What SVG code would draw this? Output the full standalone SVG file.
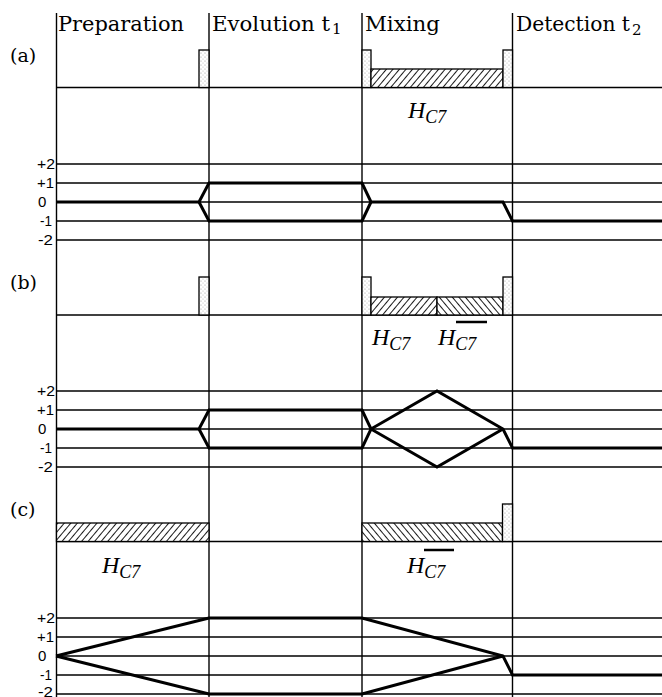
<svg xmlns="http://www.w3.org/2000/svg" width="662" height="697" viewBox="0 0 662 697">
<style>
.hd{font-family:"DejaVu Serif","Liberation Serif",serif;font-size:20px;fill:#000}
.hsub{font-family:"DejaVu Serif","Liberation Serif",serif;font-size:15px;fill:#000}
.lab{font-family:"DejaVu Serif","Liberation Serif",serif;font-size:19px;fill:#000}
.lv{font-family:"Liberation Sans","DejaVu Sans",sans-serif;font-size:15px;fill:#000}
.hm{font-family:"Liberation Serif","DejaVu Serif",serif;font-style:italic;font-size:24px;fill:#000}
.hs{font-size:18px}
.ln{stroke:#000;stroke-width:1.4;fill:none}
.base{stroke:#000;stroke-width:1.6;fill:none}
.path{stroke:#000;stroke-width:3;fill:none;stroke-linejoin:miter}
.pulse{fill:url(#stip);stroke:#000;stroke-width:1.3}
.hr{fill:url(#hatchR);stroke:#000;stroke-width:1.3}
.hl{fill:url(#hatchL);stroke:#000;stroke-width:1.3}
</style>
<defs>
<pattern id="stip" width="4" height="4" patternUnits="userSpaceOnUse">
<rect width="4" height="4" fill="#fff"/>
<circle cx="1" cy="1" r="0.6" fill="#999"/>
<circle cx="3" cy="3" r="0.6" fill="#bbb"/>
</pattern>
<pattern id="hatchR" width="5" height="10" patternUnits="userSpaceOnUse" patternTransform="rotate(40)">
<rect width="5" height="10" fill="#fff"/>
<line x1="0.5" y1="0" x2="0.5" y2="10" stroke="#000" stroke-width="0.9"/>
</pattern>
<pattern id="hatchL" width="5" height="10" patternUnits="userSpaceOnUse" patternTransform="rotate(-40)">
<rect width="5" height="10" fill="#fff"/>
<line x1="0.5" y1="0" x2="0.5" y2="10" stroke="#000" stroke-width="0.9"/>
</pattern>
</defs>
<rect width="662" height="697" fill="#fff"/>

<g id="headers">
<text class="hd" x="58" y="31" textLength="126" lengthAdjust="spacingAndGlyphs">Preparation</text>
<text class="hd" x="212" y="31" textLength="118" lengthAdjust="spacingAndGlyphs">Evolution t</text>
<text class="hsub" x="332" y="34">1</text>
<text class="hd" x="365" y="31" textLength="75" lengthAdjust="spacingAndGlyphs">Mixing</text>
<text class="hd" x="516" y="31" textLength="114" lengthAdjust="spacingAndGlyphs">Detection t</text>
<text class="hsub" x="632" y="35">2</text>
</g>

<g id="panel-labels">
<text class="lab" x="10" y="62">(a)</text>
<text class="lab" x="10" y="289">(b)</text>
<text class="lab" x="10" y="516">(c)</text>
</g>

<g id="grid">
<line class="ln" x1="56.5" y1="13" x2="56.5" y2="697"/>
<line class="ln" x1="209" y1="13" x2="209" y2="697"/>
<line class="ln" x1="362" y1="13" x2="362" y2="697"/>
<line class="ln" x1="512.5" y1="13" x2="512.5" y2="697"/>
<line class="base" x1="56" y1="87.5" x2="662" y2="87.5"/>
<line class="base" x1="56" y1="315" x2="662" y2="315"/>
<line class="base" x1="56" y1="541.5" x2="662" y2="541.5"/>
</g>

<g id="levels-a">
<line class="ln" x1="56" y1="164" x2="662" y2="164"/>
<line class="ln" x1="56" y1="183" x2="662" y2="183"/>
<line class="ln" x1="56" y1="202" x2="662" y2="202"/>
<line class="ln" x1="56" y1="221" x2="662" y2="221"/>
<line class="ln" x1="56" y1="240" x2="662" y2="240"/>
<text class="lv" x="37" y="169" textLength="18" lengthAdjust="spacingAndGlyphs">+2</text>
<text class="lv" x="37" y="188" textLength="17" lengthAdjust="spacingAndGlyphs">+1</text>
<text class="lv" x="38" y="207">0</text>
<text class="lv" x="40" y="226" textLength="12" lengthAdjust="spacingAndGlyphs">-1</text>
<text class="lv" x="38" y="245" textLength="15" lengthAdjust="spacingAndGlyphs">-2</text>
</g>
<g id="levels-b">
<line class="ln" x1="56" y1="391" x2="662" y2="391"/>
<line class="ln" x1="56" y1="410" x2="662" y2="410"/>
<line class="ln" x1="56" y1="429" x2="662" y2="429"/>
<line class="ln" x1="56" y1="448" x2="662" y2="448"/>
<line class="ln" x1="56" y1="467" x2="662" y2="467"/>
<text class="lv" x="37" y="396" textLength="18" lengthAdjust="spacingAndGlyphs">+2</text>
<text class="lv" x="37" y="415" textLength="17" lengthAdjust="spacingAndGlyphs">+1</text>
<text class="lv" x="38" y="434">0</text>
<text class="lv" x="40" y="453" textLength="12" lengthAdjust="spacingAndGlyphs">-1</text>
<text class="lv" x="38" y="472" textLength="15" lengthAdjust="spacingAndGlyphs">-2</text>
</g>
<g id="levels-c">
<line class="ln" x1="56" y1="618" x2="662" y2="618"/>
<line class="ln" x1="56" y1="637" x2="662" y2="637"/>
<line class="ln" x1="56" y1="656" x2="662" y2="656"/>
<line class="ln" x1="56" y1="675" x2="662" y2="675"/>
<line class="ln" x1="56" y1="694" x2="662" y2="694"/>
<text class="lv" x="37" y="623" textLength="18" lengthAdjust="spacingAndGlyphs">+2</text>
<text class="lv" x="37" y="642" textLength="17" lengthAdjust="spacingAndGlyphs">+1</text>
<text class="lv" x="38" y="661">0</text>
<text class="lv" x="40" y="680" textLength="12" lengthAdjust="spacingAndGlyphs">-1</text>
<text class="lv" x="38" y="697" textLength="15" lengthAdjust="spacingAndGlyphs">-2</text>
</g>

<g id="pulses-a">
<rect class="pulse" x="199" y="50" width="10" height="37.5"/>
<rect class="pulse" x="362" y="50" width="9" height="37.5"/>
<rect class="hr" x="371" y="69" width="132" height="18.5"/>
<rect class="pulse" x="503" y="50" width="9.5" height="37.5"/>
<text class="hm" x="408" y="118">H<tspan class="hs" dy="5">C7</tspan></text>
</g>

<g id="pulses-b">
<rect class="pulse" x="199" y="277" width="10" height="38"/>
<rect class="pulse" x="362" y="277" width="9" height="38"/>
<rect class="hr" x="371" y="297" width="66" height="18"/>
<rect class="hl" x="437" y="297" width="66" height="18"/>
<rect class="pulse" x="503" y="277" width="9.5" height="38"/>
<text class="hm" x="372" y="345">H<tspan class="hs" dy="5">C7</tspan></text>
<text class="hm" x="438" y="345">H<tspan class="hs" dy="5">C7</tspan></text>
<line x1="456" y1="322" x2="487" y2="322" stroke="#000" stroke-width="2.5"/>
</g>

<g id="pulses-c">
<rect class="hr" x="56.5" y="523" width="152.5" height="18.5"/>
<rect class="hl" x="362" y="523" width="140.5" height="18.5"/>
<rect class="pulse" x="502.5" y="504" width="10" height="37.5"/>
<text class="hm" x="102" y="573">H<tspan class="hs" dy="5">C7</tspan></text>
<text class="hm" x="407" y="573">H<tspan class="hs" dy="5">C7</tspan></text>
<line x1="424" y1="550" x2="454" y2="550" stroke="#000" stroke-width="2.5"/>
</g>

<g id="connectors">
<polyline class="path" points="56,202 199,202 209,183 362,183 371,202 503,202 512.5,221 662,221"/>
<polyline class="path" points="199,202 209,221 362,221 371,202"/>
<polyline class="path" points="56,429 199,429 209,410 362,410 371,429 437,391 503,429 512.5,448 662,448"/>
<polyline class="path" points="199,429 209,448 362,448 371,429 437,467 503,429"/>
<polyline class="path" points="56,656 209,618 362,618 503,656 512.5,675 662,675"/>
<polyline class="path" points="56,656 209,694 362,694 503,656"/>
</g>
</svg>
